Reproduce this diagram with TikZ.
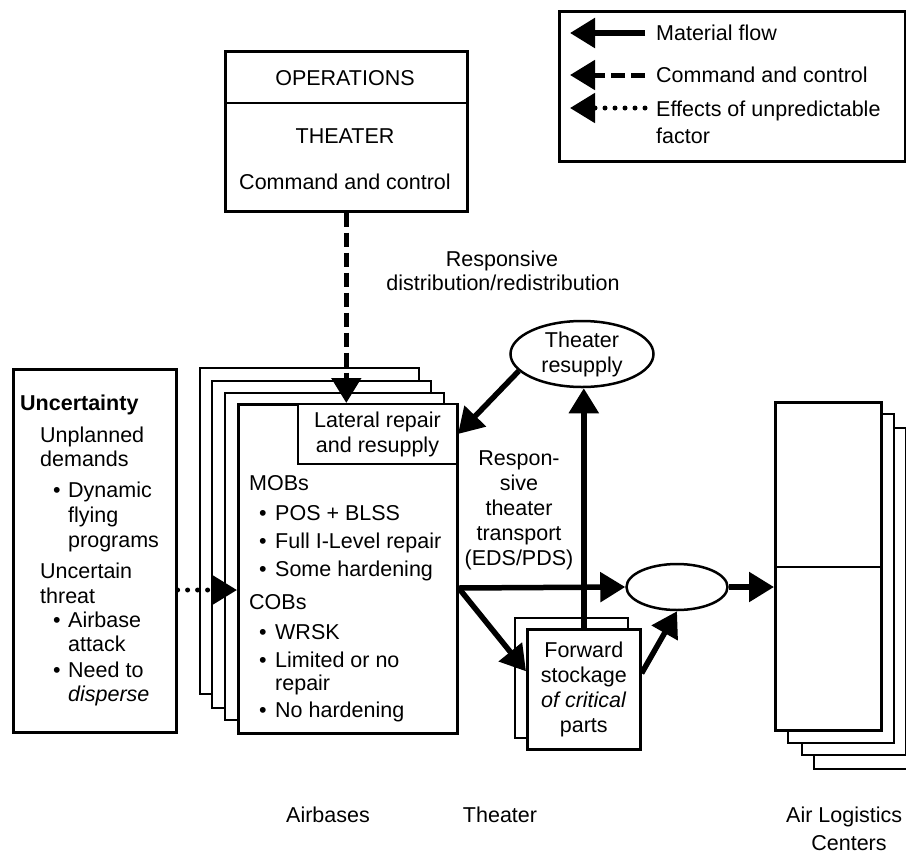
\documentclass[tikz,border=0pt]{standalone}
\usepackage{fontspec}
\setmainfont{Liberation Sans}
\usetikzlibrary{arrows.meta,shapes.geometric,calc}
\begin{document}
\begin{tikzpicture}[x=1pt,y=-1pt,
  box/.style={draw,line width=2.6pt,fill=white,inner sep=0pt,anchor=north west},
  sheet/.style={draw,line width=2.2pt,fill=white,inner sep=0pt,anchor=north west},
  txt/.style={inner sep=0pt,font=\fontsize{21.5}{25}\selectfont},
  t/.style={txt,anchor=base west},
  tc/.style={txt,anchor=base},
  tip/.style={-{Triangle[length=25pt,width=29pt]}},
  flow/.style={line width=5.5pt,tip},
  cmd/.style={line width=5pt,dash pattern=on 14pt off 6pt,tip},
  eff/.style={line width=5pt,line cap=round,dash pattern=on 0pt off 10pt,tip},
]
\useasboundingbox (0,0) rectangle (906,855);

% Legend
\node[box,minimum width=346pt,minimum height=150pt] (leg) at (558,10) {};
\coordinate (l1a) at (645,33); \coordinate (l1b) at (570,33);
\coordinate (l2a) at (645,75); \coordinate (l2b) at (570,75);
\coordinate (l3a) at (645,108); \coordinate (l3b) at (570,108);
\draw[flow] (l1a) -- (l1b);
\draw[cmd] (l2a) -- (l2b);
\draw[eff] (l3a) -- (l3b);
\node[t] (lt1) at (656,40) {Material flow};
\node[t] (lt2) at (656,82) {Command and control};
\node[t] (lt3) at (656,116) {Effects of unpredictable};
\node[t] (lt4) at (656,143) {factor};

% Operations box
\node[box,minimum width=242pt,minimum height=160pt] (ops) at (224,50) {};
\draw[line width=2pt] (224,103) -- (466,103);
\node[tc] (opsA) at (345,85) {OPERATIONS};
\node[tc] (opsB) at (345,143) {THEATER};
\node[tc] (opsC) at (345,189) {Command and control};

\node[tc] (rd1) at (502,266) {Responsive};
\node[tc] (rd2) at (503,290) {distribution/redistribution};

% Uncertainty box
\node[box,minimum width=163pt,minimum height=363pt] (unc) at (12,368) {};
\node[t,font=\fontsize{21.5}{25}\selectfont\bfseries] (u0) at (20,410) {Uncertainty};
\node[t] (u1) at (40,442) {Unplanned};
\node[t] (u2) at (40,466) {demands};
\node[t] (b1) at (53,497) {•};
\node[t] (u3) at (68,497) {Dynamic};
\node[t] (u4) at (68,522) {flying};
\node[t] (u5) at (68,547) {programs};
\node[t] (u6) at (40,578) {Uncertain};
\node[t] (u7) at (40,603) {threat};
\node[t] (b2) at (53,627) {•};
\node[t] (u8) at (68,627) {Airbase};
\node[t] (u9) at (68,651) {attack};
\node[t] (b3) at (53,677) {•};
\node[t] (u10) at (68,677) {Need to};
\node[t] (u11) at (68,701) {\itshape disperse};

% Airbases stack
\node[sheet,minimum width=219pt,minimum height=326pt] (ab3) at (199,367) {};
\node[sheet,minimum width=219pt,minimum height=327pt] (ab2) at (211,380) {};
\node[sheet,minimum width=219pt,minimum height=327pt] (ab1) at (224,392) {};
\node[box,minimum width=219pt,minimum height=329pt] (ab) at (237,403) {};
\node[sheet,line width=2pt,minimum width=159pt,minimum height=60pt,txt,align=center,anchor=north west] (lat) at (297,403) {Lateral repair\\and resupply};
\node[t] (m0) at (249,490) {MOBs};
\node[t] (mb1) at (259,520) {•};
\node[t] (m1) at (275,520) {POS + BLSS};
\node[t] (mb2) at (259,548) {•};
\node[t] (m2) at (275,548) {Full I-Level repair};
\node[t] (mb3) at (259,576) {•};
\node[t] (m3) at (275,576) {Some hardening};
\node[t] (c0) at (249,609) {COBs};
\node[t] (cb1) at (259,639) {•};
\node[t] (c1) at (275,639) {WRSK};
\node[t] (cb2) at (259,667) {•};
\node[t] (c2) at (275,667) {Limited or no};
\node[t] (c3) at (275,690) {repair};
\node[t] (cb3) at (259,717) {•};
\node[t] (c4) at (275,717) {No hardening};

% Theater
\node[ellipse,draw,line width=2.5pt,minimum width=143pt,minimum height=66pt,inner sep=0pt,txt,align=center] (tr) at (582,354) {Theater\\resupply};
\node[tc] (rt1) at (519,465) {Respon-};
\node[tc] (rt2) at (519,490) {sive};
\node[tc] (rt3) at (519,515) {theater};
\node[tc] (rt4) at (519,540) {transport};
\node[tc] (rt5) at (519,565) {(EDS/PDS)};
\node[sheet,minimum width=113pt,minimum height=120pt] (fs2) at (514,617) {};
\node[box,minimum width=113pt,minimum height=120pt,txt,align=center,anchor=north west] (fs) at (526,628) {Forward\\stockage\\\textit{of critical}\\parts};
\node[ellipse,draw,line width=2.5pt,minimum width=101pt,minimum height=46pt,inner sep=0pt] (se) at (677,587) {};

% Air Logistics Centers stack
\node[sheet,minimum width=105pt,minimum height=328pt] (alc4) at (813,440) {};
\node[sheet,minimum width=104pt,minimum height=327pt] (alc3) at (801,427) {};
\node[sheet,minimum width=106pt,minimum height=329pt] (alc2) at (787,413) {};
\node[box,minimum width=106pt,minimum height=328pt] (alc) at (774,401) {};
\draw[line width=1.6pt] (774,567) -- (880,567);

% Connectors
\coordinate (dotY) at (0,590);
\coordinate (hY) at (0,588);
\draw[cmd] (ops.south) -- (ops.south |- ab.north);
\draw[eff] (unc.east |- dotY) -- (ab.west |- dotY);
\draw[flow] (tr.195) -- (lat.east);
\draw[flow] (fs.north) -- (fs.north |- tr.south);
\draw[flow,line join=miter] (ab.east |- hY) -- (se.west);
\draw[flow] (ab.east |- hY) -- ($(fs.west)+(0,-18)$);
\draw[flow] ($(fs.east)+(0,-16)$) -- (se.south);
\draw[flow] (se.east) -- (se.east -| alc.west);

% Bottom labels
\node[tc] (lab1) at (328,822) {Airbases};
\node[tc] (lab2) at (500,822) {Theater};
\node[t] (lab3) at (786,822) {Air Logistics};
\node[tc] (lab4) at (849,850) {Centers};
\end{tikzpicture}
\end{document}
